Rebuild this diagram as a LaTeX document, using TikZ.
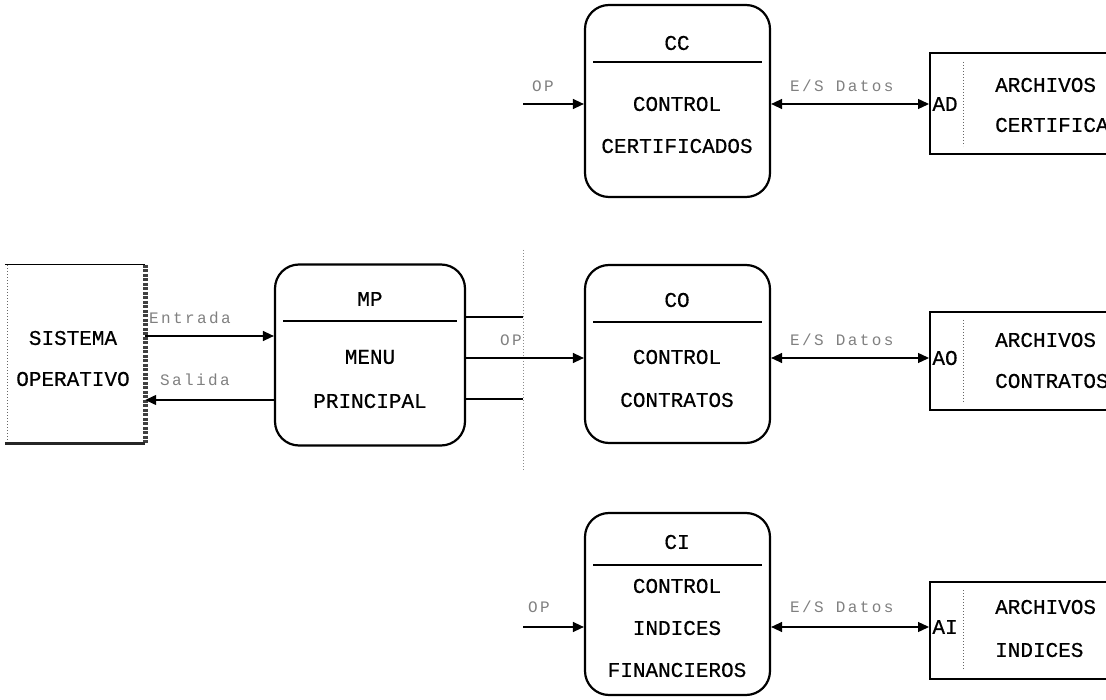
\documentclass[tikz,border=0pt]{standalone}
\usepackage{fontspec}
\setmainfont{Liberation Mono}
\newfontfamily\dotfont{Liberation Mono}[FakeBold=0.5]
\newfontfamily\lblfont{Liberation Mono}[LetterSpace=15]
\usetikzlibrary{arrows.meta,calc}
\begin{document}
\begin{tikzpicture}[x=1pt,y=-1pt,
  proc/.style={draw, line width=2.2pt, rounded corners=24pt, minimum width=185pt, minimum height=182pt, inner sep=0pt},
  store/.style={draw, line width=2pt, minimum width=200pt, inner sep=0pt},
  txt/.style={font=\dotfont\fontsize{21}{23}\selectfont, inner sep=0pt},
  lbl/.style={font=\lblfont\fontsize{16}{18}\selectfont, text=black!50, inner sep=0pt, anchor=west},
  conn/.style={line width=1.3pt},
  divl/.style={line width=1.3pt},
  tip/.style={-{Triangle[length=11pt,width=10pt]}},
  tips/.style={{Triangle[length=11pt,width=10pt]}-{Triangle[length=11pt,width=10pt]}},
  sep/.style={dotted, line width=1pt, black!60}]
\useasboundingbox (0,0) rectangle (1106,700);
\clip (0,0) rectangle (1106,700);

% --- Sistema operativo ---
\node[minimum width=140pt, minimum height=178pt, inner sep=0pt] (SO) at (75,354) {};
\draw[line width=1pt] (SO.north west) -- (SO.north east);
\draw[sep] ([xshift=3pt]SO.north west) -- ([xshift=3pt]SO.south west);
\draw[line width=5pt, black!75, dash pattern=on 3pt off 1.5pt] (SO.north east) -- (SO.south east);
\draw[line width=3pt, black!85] (SO.south west) -- (SO.south east);
\node[txt] (SOa) at (73,338) {SISTEMA};
\node[txt] (SOb) at (73,379) {OPERATIVO};

% --- Menu principal ---
\node[proc, minimum width=190pt, minimum height=181pt] (MP) at (370,355) {};
\node[txt] (MPt) at (370,299) {MP};
\draw[divl] (283,321) -- (457,321);
\node[txt] (MPa) at (370,357) {MENU};
\node[txt] (MPb) at (370,401) {PRINCIPAL};

% --- Control certificados ---
\node[proc, minimum height=192pt] (CC) at (677.5,101) {};
\node[txt] (CCt) at (677,43) {CC};
\draw[divl] (593,62) -- (762,62);
\node[txt] (CCa) at (677,104) {CONTROL};
\node[txt] (CCb) at (677,146) {CERTIFICADOS};

% --- Control contratos ---
\node[proc, minimum height=178pt] (CO) at (677.5,354) {};
\node[txt] (COt) at (677,300) {CO};
\draw[divl] (593,322) -- (762,322);
\node[txt] (COa) at (677,357) {CONTROL};
\node[txt] (COb) at (677,400) {CONTRATOS};

% --- Control indices ---
\node[proc, minimum height=182pt] (CI) at (677.5,604) {};
\node[txt] (CIt) at (677,542) {CI};
\draw[divl] (593,565) -- (762,565);
\node[txt] (CIa) at (677,586) {CONTROL};
\node[txt] (CIb) at (677,628) {INDICES};
\node[txt] (CIc) at (677,670) {FINANCIEROS};

% --- Archivos ---
\node[store, minimum height=101pt] (AD) at (1030,103.5) {};
\node[txt] (ADt) at (945,104) {AD};
\draw[sep] (963,62) -- (963,146);
\node[txt, anchor=west] (ADa) at (995,85) {ARCHIVOS};
\node[txt, anchor=west] (ADb) at (995,125) {CERTIFICADOS};

\node[store, minimum height=98pt] (AO) at (1030,361) {};
\node[txt] (AOt) at (945,358) {AO};
\draw[sep] (963,320) -- (963,402);
\node[txt, anchor=west] (AOa) at (995,340) {ARCHIVOS};
\node[txt, anchor=west] (AOb) at (995,381) {CONTRATOS};

\node[store, minimum height=97pt] (AI) at (1030,630) {};
\node[txt] (AIt) at (945,627) {AI};
\draw[sep] (963,590) -- (963,670);
\node[txt, anchor=west] (AIa) at (995,607) {ARCHIVOS};
\node[txt, anchor=west] (AIb) at (995,650) {INDICES};

% --- connectors ---
\coordinate (vt) at (523,250);
\coordinate (vb) at (523,470);
\draw[dotted, line width=1pt, black!45] (vt) -- (vb);

\draw[conn,tip] (SO.east |- 0,336) -- (MP.west |- 0,336);
\draw[conn,tip] (MP.west |- 0,400) -- (SO.east |- 0,400);
\node[lbl] (lEnt) at (149,318) {Entrada};
\node[lbl] (lSal) at (160,380) {Salida};

\draw[conn] (MP.east |- 0,317) -- (vt |- 0,317);
\draw[conn,tip] (MP.east |- 0,358) -- (CO.west |- 0,358);
\draw[conn] (MP.east |- 0,399) -- (vt |- 0,399);
\node[lbl] (lOP2) at (500,340) {OP};

\draw[conn,tip] (vt |- 0,104) -- (CC.west |- 0,104);
\node[lbl] (lOP1) at (532,86) {OP};
\draw[conn,tip] (vt |- 0,627) -- (CI.west |- 0,627);
\node[lbl] (lOP3) at (528,607) {OP};

\draw[conn,tips] (CC.east |- 0,104) -- (AD.west |- 0,104);
\node[lbl] (lES1) at (790,86) {E/S Datos};
\draw[conn,tips] (CO.east |- 0,358) -- (AO.west |- 0,358);
\node[lbl] (lES2) at (790,340) {E/S Datos};
\draw[conn,tips] (CI.east |- 0,627) -- (AI.west |- 0,627);
\node[lbl] (lES3) at (790,607) {E/S Datos};
\end{tikzpicture}
\end{document}
